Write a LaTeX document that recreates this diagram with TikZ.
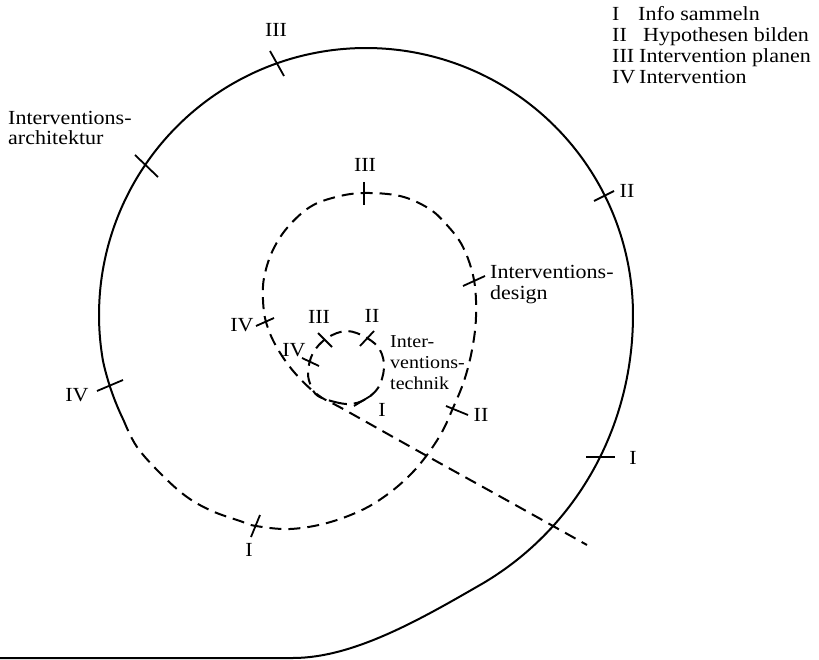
\documentclass[tikz,border=0pt]{standalone}
\usepackage{fontspec}
\setmainfont{Liberation Serif}[FakeStretch=1.1]
\begin{document}
\begin{tikzpicture}[x=1pt,y=-1pt,
  declare function={rr(\t)=267 + 0.8*(min(\t,0)/10)*(min(\t,0)/10) + 0.0328*(min(\t,0)/10)*(min(\t,0)/10)*(min(\t,0)/10) - 0.2*max(\t-190,0);},
  solidline/.style={line width=2pt, line join=round},
  dashline/.style={line width=2pt, dash pattern=on 12pt off 7pt},
  tickline/.style={line width=1.8pt},
  lbl/.style={inner sep=0pt, font=\fontsize{20}{20.7}\selectfont},
  lblw/.style={lbl, anchor=base west},
  lbls/.style={inner sep=0pt, anchor=base west, font=\fontsize{18.2}{20.7}\selectfont}]
\useasboundingbox (0,0) rectangle (819,660);

% outer solid part of the spiral
\draw[solidline] (0,658) -- (293,658) .. controls (353,658) and (419.9,619.7) .. (480.5,584.7)
  -- plot[domain=-67:203.4, samples=240] ({366+rr(\x)*cos(\x)},{315-rr(\x)*sin(\x)});

% dashed inner part of the spiral, ending in the straight line
\draw[dashline] plot[smooth, tension=0.6] coordinates {
  (123.5,420) (137,447) (162,475) (187,497) (212,511) (240,521) (256,526)
  (290,529) (327,523) (362,510) (388,494) (410,475) (427,455) (442,432)
  (453,408) (464,381) (472,350) (476,317) (474,280) (463,247) (446,224)
  (428,208) (400,196) (364,193) (336,197) (310,207) (287,228) (272,252)
  (264,278) (263,300) (266,322) (276,346) (294,372) (318,395) (345,410)
  (427,456) (510,502) (587,545)};

% small inner loop
\draw[dashline] plot[smooth cycle, tension=0.6] coordinates {
  (318,396) (335,402) (350,404) (364,400) (378,388) (384,368) (380,350)
  (367,338) (347,331) (327,338) (313,353) (308,372) (311,386)};

% ticks on outer loop
\draw[tickline] (270,51) -- (284,76);
\draw[tickline] (135,155) -- (158,177);
\draw[tickline] (97,391) -- (123,380);
\draw[tickline] (594,201) -- (614,191);
\draw[tickline] (586,457) -- (615,457);
% ticks on middle loop
\draw[tickline] (364,182) -- (364,205);
\draw[tickline] (463,286) -- (485,276);
\draw[tickline] (256,326) -- (274,318);
\draw[tickline] (446,406) -- (468,415);
\draw[tickline] (260,515) -- (251,537);
% ticks on small loop
\draw[tickline] (354,406) -- (372,395);
\draw[tickline] (360,346) -- (374,331);
\draw[tickline] (318,333) -- (332,347);
\draw[tickline] (302,358) -- (319,366);

% labels outer
\node[lbl] (o3) at (276,30) {III};
\node[lblw] (oa1) at (8,125) {Interventions-};
\node[lblw] (oa2) at (8,145) {architektur};
\node[lbl] (o4) at (77,395) {IV};
\node[lbl] (o2) at (627,191) {II};
\node[lbl] (o1) at (633,458) {I};
% labels middle
\node[lbl] (m3) at (365,165) {III};
\node[lblw] (md1) at (490,279) {Interventions-};
\node[lblw] (md2) at (490,300) {design};
\node[lbl] (m4) at (242,325) {IV};
\node[lbl] (m2) at (481,415) {II};
\node[lbl] (m1) at (249,550) {I};
% labels small
\node[lbl] (s3) at (319,317) {III};
\node[lbl] (s2) at (372,316) {II};
\node[lbl] (s4) at (294,350) {IV};
\node[lbl] (s1) at (382,410) {I};
\node[lbls] (st1) at (390,347) {Inter-};
\node[lbls] (st2) at (390,368) {ventions-};
\node[lbls] (st3) at (390,389) {technik};

% legend
\node[lblw] (l1n) at (612,20.7) {I};
\node[lblw] (l1t) at (638,20.7) {Info sammeln};
\node[lblw] (l2n) at (612,41.5) {II};
\node[lblw] (l2t) at (643,41.5) {Hypothesen bilden};
\node[lblw] (l3n) at (612,62.3) {III};
\node[lblw] (l3t) at (639,62.3) {Intervention planen};
\node[lblw] (l4n) at (612,83.1) {IV};
\node[lblw] (l4t) at (639,83.1) {Intervention};
\end{tikzpicture}
\end{document}
